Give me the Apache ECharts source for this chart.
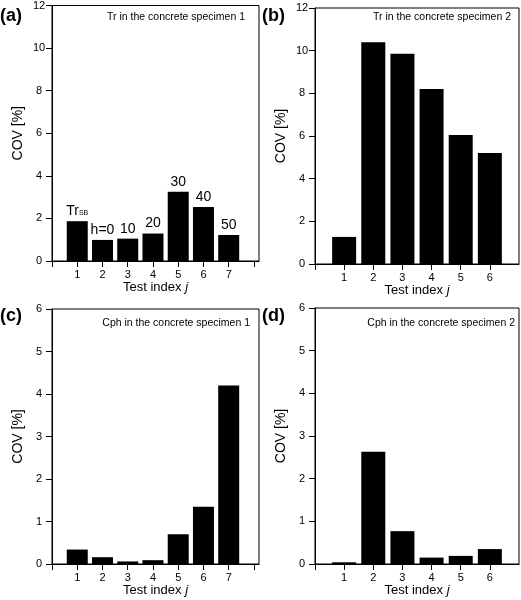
<!DOCTYPE html>
<html><head><meta charset="utf-8">
<script src="https://cdn.jsdelivr.net/npm/echarts@6/dist/echarts.min.js"></script>
<style>html,body{margin:0;padding:0;background:#fff}#c{width:521px;height:600px}</style>
</head><body><div id="c"></div>
<script>
// ---- data ----
var indexA = [1, 2, 3, 4, 5, 6, 7];
var covA = [1.87, 0.99, 1.05, 1.29, 3.25, 2.54, 1.22];
var barLabelsA = ['Tr_SB', 'h=0', '10', '20', '30', '40', '50'];

var indexB = [1, 2, 3, 4, 5, 6];
var covB = [1.27, 10.4, 9.85, 8.2, 6.05, 5.2];

var indexC = [1, 2, 3, 4, 5, 6, 7];
var covC = [0.34, 0.16, 0.06, 0.09, 0.70, 1.35, 4.2];

var indexD = [1, 2, 3, 4, 5, 6];
var covD = [0.04, 2.63, 0.77, 0.15, 0.19, 0.35];

var panelTitles = ['Tr in the concrete specimen 1', 'Tr in the concrete specimen 2',
                   'Cph in the concrete specimen 1', 'Cph in the concrete specimen 2'];
var panelLetters = ['(a)', '(b)', '(c)', '(d)'];
var yTitle = 'COV [%]';

var FONT = 'Liberation Sans, Arial, Helvetica, sans-serif';

function pairs(xs, ys) { return xs.map(function (x, i) { return [x, ys[i]]; }); }

var grids = [
  {left: 52, top: 5, width: 207, height: 256},
  {left: 315, top: 8, width: 204, height: 256},
  {left: 52, top: 309, width: 207, height: 255},
  {left: 315, top: 308, width: 204, height: 256}
];
var xMax = [8.2, 7, 8.2, 7];
var xCount = [7, 6, 7, 6];
var yMax = [12, 12, 6, 6];
var yInt = [2, 2, 1, 1];

var option = {
  animation: false,
  backgroundColor: '#fff',
  textStyle: {fontFamily: FONT},
  grid: grids.map(function (g) {
    return Object.assign({show: true, borderColor: '#000', borderWidth: 1, backgroundColor: 'transparent', containLabel: false}, g);
  }),
  xAxis: grids.map(function (g, i) {
    return {
      type: 'value', gridIndex: i, min: 0, max: xMax[i], interval: 1,
      splitLine: {show: false},
      axisLine: {show: true, lineStyle: {color: '#000', width: 1}},
      axisTick: {show: true, inside: false, length: 6, lineStyle: {color: '#000'}},
      axisLabel: {
        color: '#000', fontSize: 11, fontFamily: FONT, margin: 8,
        showMinLabel: true, showMaxLabel: false,
        formatter: function (v) {
          if (v < 1 || v > xCount[i]) return '';
          if (v === 5 && xCount[i] === 7) return '{low|5}';
          return String(v);
        },
        rich: {low: {fontSize: 11, fontFamily: FONT, color: '#000'}}
      },
      name: 'Test index {it|j}', nameLocation: 'middle', nameGap: 20,
      nameTextStyle: {color: '#000', fontSize: 13, fontFamily: FONT,
        rich: {it: {fontStyle: 'italic', fontSize: 13, fontFamily: FONT, color: '#000'}}}
    };
  }),
  yAxis: grids.map(function (g, i) {
    return {
      type: 'value', gridIndex: i, min: 0, max: yMax[i], interval: yInt[i],
      splitLine: {show: false},
      axisLine: {show: true, lineStyle: {color: '#000', width: 1}},
      axisTick: {show: true, inside: false, length: 6, lineStyle: {color: '#000'}},
      axisLabel: {color: '#000', fontSize: 11, fontFamily: FONT, margin: 13, align: 'center'},
      name: yTitle, nameLocation: 'middle', nameGap: 27,
      nameTextStyle: {color: '#000', fontSize: 14, fontFamily: FONT}
    };
  }),
  series: [
    {type: 'bar', xAxisIndex: 0, yAxisIndex: 0, barWidth: 21, data: pairs(indexA, covA),
     itemStyle: {color: '#000'},
     label: {show: true, position: 'top', distance: 3, color: '#000', fontSize: 14, fontFamily: FONT,
       formatter: function (p) {
         var t = barLabelsA[p.dataIndex];
         if (t === 'Tr_SB') return '{a|Tr}{s|SB}';
         return t;
       },
       rich: {a: {fontSize: 14, fontFamily: FONT, color: '#000'},
              s: {fontSize: 7, fontFamily: FONT, color: '#000', padding: [4, 0, 0, 0]}}}},
    {type: 'bar', xAxisIndex: 1, yAxisIndex: 1, barWidth: 24, data: pairs(indexB, covB), itemStyle: {color: '#000'}},
    {type: 'bar', xAxisIndex: 2, yAxisIndex: 2, barWidth: 21, data: pairs(indexC, covC), itemStyle: {color: '#000'}},
    {type: 'bar', xAxisIndex: 3, yAxisIndex: 3, barWidth: 24, data: pairs(indexD, covD), itemStyle: {color: '#000'}}
  ],
  graphic: []
};

var letterPos = [[0, 7], [262, 7], [0, 307], [262, 307]];
var titlePos = [[245, 12], [511, 12], [250, 318], [515, 318]];
for (var k = 0; k < 4; k++) {
  option.graphic.push({type: 'text', left: letterPos[k][0], top: letterPos[k][1],
    style: {text: panelLetters[k], font: 'bold 18px ' + FONT, fill: '#000'}});
  option.graphic.push({type: 'text', x: titlePos[k][0], y: titlePos[k][1],
    style: {text: panelTitles[k], font: '10.5px ' + FONT, fill: '#000', textAlign: 'right', textVerticalAlign: 'top'}});
}

var chart = echarts.init(document.getElementById('c'), null, {renderer: 'canvas'});
chart.setOption(option);
</script></body></html>
